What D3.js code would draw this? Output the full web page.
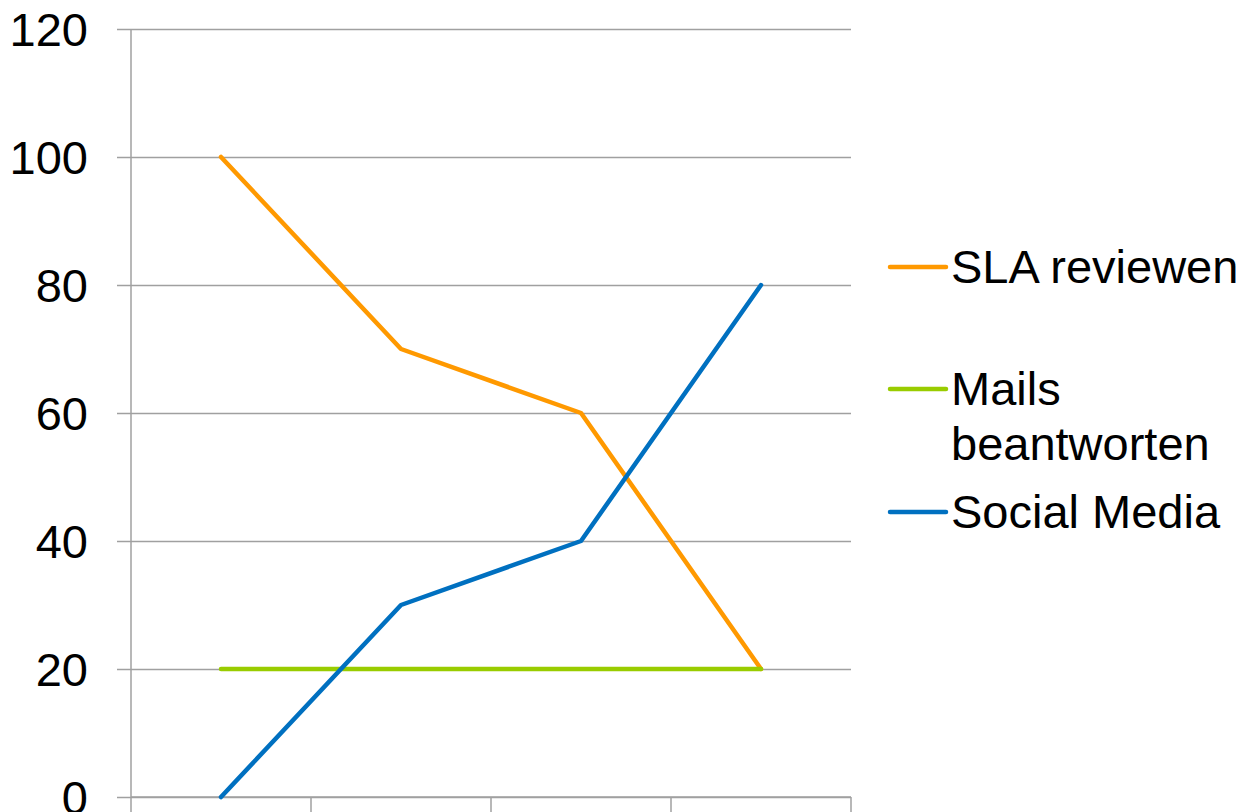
<!DOCTYPE html>
<html>
<head>
    <meta charset="UTF-8">
    <title>Line chart</title>
    <style>
        body { margin: 0; background: #fff; }
        text { font-family: "Liberation Sans", Arial, sans-serif; fill: #000; }
    </style>
</head>
<body>
    <div id="chart"></div>

    <script src="https://d3js.org/d3.v7.min.js"></script>
    <script>
        // data
        var categories = ["1", "2", "3", "4"];
        var slaReviewen = [100, 70, 60, 20];
        var mailsBeantworten = [20, 20, 20, 20];
        var socialMedia = [0, 30, 40, 80];
        var yTicks = [0, 20, 40, 60, 80, 100, 120];

        var series = [
            { name: ["SLA reviewen"], values: slaReviewen, color: "#FF9900" },
            { name: ["Mails", "beantworten"], values: mailsBeantworten, color: "#99CC00" },
            { name: ["Social Media"], values: socialMedia, color: "#0070C0" }
        ];

        var width = 1252, height = 812;
        var plotLeft = 131, plotRight = 851, plotTop = 29, plotBottom = 797;

        var svg = d3.select("#chart").append("svg")
            .attr("width", width)
            .attr("height", height);

        var x = d3.scaleBand().domain(categories).range([plotLeft, plotRight]);
        var y = d3.scaleLinear().domain([0, 120]).range([plotBottom, plotTop]);

        // grid lines + y axis
        var yAxis = svg.append("g")
            .attr("transform", "translate(" + plotLeft + ",0)")
            .call(d3.axisLeft(y).tickValues(yTicks).tickSize(14).tickPadding(0));
        yAxis.select(".domain").remove();
        yAxis.selectAll(".tick line")
            .attr("x1", -14)
            .attr("x2", plotRight - plotLeft)
            .attr("stroke", "#A0A0A0")
            .attr("stroke-width", 1.5);
        yAxis.selectAll(".tick text")
            .attr("x", -43)
            .attr("dy", "0.35em")
            .style("font-size", "47px")
            .style("font-family", "'Liberation Sans', Arial, sans-serif")
            .attr("fill", "#000");

        // vertical axis line
        svg.append("line")
            .attr("x1", plotLeft).attr("x2", plotLeft)
            .attr("y1", plotTop).attr("y2", plotBottom)
            .attr("stroke", "#A0A0A0").attr("stroke-width", 1.5);

        // x axis with ticks at category boundaries
        var bounds = categories.map(function (c) { return x(c); }).concat([plotRight]);
        svg.append("line")
            .attr("x1", plotLeft).attr("x2", plotRight)
            .attr("y1", plotBottom).attr("y2", plotBottom)
            .attr("stroke", "#A0A0A0").attr("stroke-width", 1.5);
        svg.append("g").selectAll("line")
            .data(bounds)
            .enter()
            .append("line")
            .attr("x1", function (d) { return d; })
            .attr("x2", function (d) { return d; })
            .attr("y1", plotBottom)
            .attr("y2", plotBottom + 16)
            .attr("stroke", "#A0A0A0").attr("stroke-width", 1.5);

        // lines
        var line = d3.line()
            .x(function (d, i) { return x(categories[i]) + x.bandwidth() / 2; })
            .y(function (d) { return y(d); });

        svg.append("g").selectAll("path")
            .data(series)
            .enter()
            .append("path")
            .attr("d", function (d) { return line(d.values); })
            .attr("fill", "none")
            .attr("stroke", function (d) { return d.color; })
            .attr("stroke-width", 4.5)
            .attr("stroke-linejoin", "round")
            .attr("stroke-linecap", "round");

        // legend
        var legendY = [267, 389, 512];
        var legend = svg.append("g").selectAll("g")
            .data(series)
            .enter()
            .append("g")
            .attr("transform", function (d, i) { return "translate(890," + legendY[i] + ")"; });

        legend.append("line")
            .attr("x1", 0).attr("x2", 56)
            .attr("y1", 0).attr("y2", 0)
            .attr("stroke", function (d) { return d.color; })
            .attr("stroke-width", 4.5)
            .attr("stroke-linecap", "round");

        legend.append("text")
            .attr("x", 61)
            .attr("y", 16)
            .style("font-size", "47px")
            .selectAll("tspan")
            .data(function (d) { return d.name; })
            .enter()
            .append("tspan")
            .attr("x", 61)
            .attr("dy", function (d, i) { return i === 0 ? 0 : 55; })
            .text(function (d) { return d; });
    </script>
</body>
</html>
